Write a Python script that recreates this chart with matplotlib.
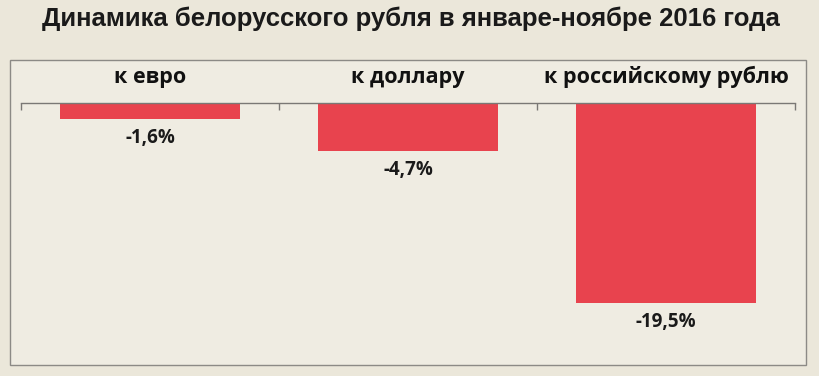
import matplotlib.pyplot as plt
from matplotlib.patches import Rectangle
from matplotlib.transforms import blended_transform_factory

title = 'Динамика белорусского рубля в январе-ноябре 2016 года'
categories = ['к евро', 'к доллару', 'к российскому рублю']
values = [-1.6, -4.7, -19.5]
labels = ['-1,6%', '-4,7%', '-19,5%']

W, H = 820, 376
fig = plt.figure(figsize=(W / 100, H / 100), dpi=100)
fig.patch.set_facecolor('#ebe7da')

# frame of the chart area
box = Rectangle((10 / W, 1 - 365 / H), 796 / W, 305 / H, transform=fig.transFigure,
                facecolor='#efece2', edgecolor='#8c8a86', linewidth=1.0, zorder=-1)
fig.patches.append(box)

fig.text(42 / W, 1 - 19 / H, title, ha='left', va='center', fontsize=18.5,
         fontweight='bold', color='#1a1a1a',
         family=['Liberation Sans Narrow', 'Liberation Sans', 'DejaVu Sans'])

ax = fig.add_axes([21 / W, 1 - 365 / H, 774 / W, 262 / H])
ax.patch.set_alpha(0)
x = range(len(categories))
ax.bar(x, values, width=0.7, color='#e8434e')
ax.set_xlim(-0.5, len(categories) - 0.5)
ax.set_ylim(-25.5, 0)

for s in ['left', 'right', 'bottom']:
    ax.spines[s].set_visible(False)
ax.spines['top'].set_color('#7a7875')
ax.spines['top'].set_linewidth(1.0)
ax.set_yticks([])
ax.xaxis.tick_top()
ax.set_xticks([i - 0.5 for i in range(len(categories) + 1)])
ax.set_xticklabels([])
ax.tick_params(axis='x', direction='in', length=5, color='#7a7875', width=1.0)

trans = blended_transform_factory(ax.transData, fig.transFigure)
for i, c in enumerate(categories):
    ax.text(i, 1 - 77 / H, c, transform=trans, ha='center', va='center',
            fontsize=15.5, fontweight='bold', color='#111111',
            family=['Open Sans', 'DejaVu Sans'])

for i, (v, lab) in enumerate(zip(values, labels)):
    ax.annotate(lab, (i, v), xytext=(0, -6), textcoords='offset points',
                ha='center', va='top', fontsize=13.5, fontweight='bold',
                color='#1a1a1a', family=['Open Sans', 'DejaVu Sans'])

fig.savefig('out.png', dpi=100, facecolor=fig.get_facecolor())
